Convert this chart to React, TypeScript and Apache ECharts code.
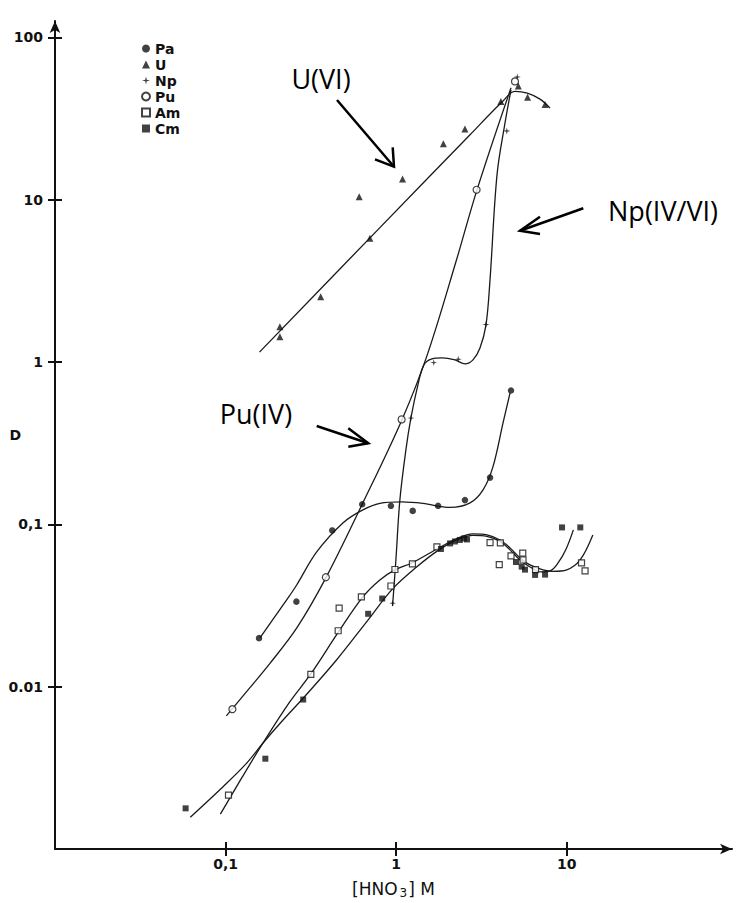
import React, { useEffect, useRef } from "react";
import * as echarts from "echarts";

// ---- tick values / labels ----
const X_TICKS = [0.1, 1, 10];
const X_TICK_LABELS = ["0,1", "1", "10"];
const Y_TICKS = [0.01, 0.1, 1, 10, 100];
const Y_TICK_LABELS = ["0.01", "0,1", "1", "10", "100"];
const LEGEND_NAMES = ["Pa", "U", "Np", "Pu", "Am", "Cm"];

// ---- measured points: [HNO3] (M) and D ----
const PA_X = [0.157, 0.26, 0.422, 0.632, 0.931, 1.25, 1.76, 2.53, 3.55, 4.71];
const PA_D = [0.0199, 0.0334, 0.0917, 0.133, 0.13, 0.121, 0.13, 0.141, 0.194, 0.667];

const U_X = [0.208, 0.208, 0.361, 0.701, 0.607, 1.09, 1.89, 2.53, 4.11, 5.2, 5.89, 7.46];
const U_D = [1.43, 1.65, 2.52, 5.79, 10.4, 13.4, 22.1, 27.2, 40.2, 50.2, 42.8, 38.6];

const NP_X = [0.953, 1.22, 1.66, 2.31, 3.36, 4.45, 5.13];
const NP_D = [0.0327, 0.451, 0.991, 1.04, 1.7, 26.5, 56.9];

const PU_X = [0.1096, 0.387, 1.076, 2.96, 4.97];
const PU_D = [0.00727, 0.0472, 0.443, 11.5, 53.5];

const AM_X = [0.104, 0.316, 0.457, 0.463, 0.625, 0.931, 0.983, 1.245, 1.733, 3.55, 4.08, 4.02, 4.71, 5.52, 5.54, 6.56, 12.2, 12.8];
const AM_D = [0.00215, 0.0119, 0.0221, 0.0305, 0.0357, 0.0417, 0.0527, 0.057, 0.0726, 0.0771, 0.0768, 0.0565, 0.0639, 0.0664, 0.0603, 0.0526, 0.0578, 0.0516];

const CM_X = [0.0583, 0.171, 0.285, 0.685, 0.828, 1.83, 2.07, 2.21, 2.36, 2.5, 2.6, 5.04, 5.44, 5.69, 6.52, 7.46, 9.38, 12.0];
const CM_D = [0.00178, 0.0036, 0.00833, 0.0281, 0.0349, 0.0705, 0.0763, 0.0784, 0.0801, 0.0818, 0.0807, 0.0586, 0.0549, 0.0526, 0.0488, 0.049, 0.0957, 0.0957];

// ---- fitted curves (hand-drawn in the original) ----
const PA_CURVE_X = [0.159, 0.194, 0.228, 0.261, 0.342, 0.487, 0.638, 0.802, 1.08, 1.435, 2.07, 2.71, 3.23, 3.69, 4.23, 4.65];
const PA_CURVE_D = [0.02, 0.0269, 0.0342, 0.0423, 0.0676, 0.102, 0.1227, 0.1345, 0.1374, 0.1345, 0.1271, 0.1355, 0.163, 0.226, 0.4215, 0.645];

const U_CURVE_X = [0.158, 0.8, 2.71, 4.17, 4.97, 5.87, 6.97, 7.98];
const U_CURVE_D = [1.15, 6.7, 25.1, 39.9, 46.4, 45.3, 41.6, 36.6];

const NP_CURVE_X = [0.952, 0.996, 1.051, 1.14, 1.22, 1.341, 1.454, 1.62, 1.854, 2.211, 2.531, 2.819, 3.099, 3.361, 3.548, 3.899, 4.345, 4.711];
const NP_CURVE_D = [0.0314, 0.0603, 0.1413, 0.2873, 0.4523, 0.7227, 0.9596, 1.045, 1.06, 1.03, 0.973, 1.03, 1.221, 1.693, 3.206, 14.22, 29.73, 47.49];

const PU_CURVE_X = [0.101, 0.1385, 0.1815, 0.2614, 0.387, 0.6376, 1.08, 1.514, 2.24, 2.976, 4.711];
const PU_CURVE_D = [0.0066, 0.00982, 0.01386, 0.023, 0.0468, 0.1355, 0.4397, 1.09, 4.14, 11.49, 48.9];

const AM_CURVE_X = [0.0932, 0.1243, 0.1658, 0.2377, 0.3158, 0.4549, 0.6376, 0.802, 0.983, 1.236, 1.733, 2.271, 2.819, 3.406, 4.06, 4.649, 5.32, 6.09, 7.26, 8.31, 10.0, 11.97, 14.21];
const AM_CURVE_D = [0.00164, 0.00274, 0.0045, 0.00805, 0.01197, 0.02143, 0.0357, 0.0454, 0.0524, 0.0578, 0.0705, 0.0818, 0.0873, 0.086, 0.0801, 0.0716, 0.0621, 0.0562, 0.0524, 0.0513, 0.0524, 0.0603, 0.086];

const CM_CURVE_X = [0.0621, 0.0966, 0.1325, 0.1658, 0.2172, 0.2846, 0.4469, 0.685, 0.952, 1.317, 1.781, 2.271, 2.819, 3.406, 4.06, 4.649, 5.32, 6.09, 7.07, 7.98, 8.89, 9.91, 10.93];
const CM_CURVE_D = [0.00157, 0.00242, 0.00337, 0.0045, 0.00623, 0.00848, 0.0146, 0.0258, 0.04, 0.0546, 0.0696, 0.0801, 0.0854, 0.0842, 0.0784, 0.0696, 0.0603, 0.0546, 0.0509, 0.0516, 0.0578, 0.0705, 0.0924];

// axis extents in [HNO3] and D
const X_MIN = 0.01;
const X_MAX = 93;
const Y_MIN = 0.001;
const Y_MAX = 126;

const lg = (v: number) => Math.round(Math.log10(v) * 1e6) / 1e6;
const pairs = (xs: number[], ys: number[]) => xs.map((x, i) => [lg(x), lg(ys[i])]);

const INK = "#111";
const FONT = "DejaVu Sans";
const STAR = "path://M5,0 L6,4 L10,5 L6,6 L5,10 L4,6 L0,5 L4,4 Z";

export default function App() {
  const ref = useRef<HTMLDivElement>(null);

  useEffect(() => {
    if (!ref.current) return;
    const chart = echarts.init(ref.current, null, { renderer: "svg" });

    const xTickVals = X_TICKS.map(lg);
    const yTickVals = Y_TICKS.map(lg);
    const xLabelFor = (v: number) => {
      const i = xTickVals.findIndex((t) => Math.abs(t - v) < 1e-4);
      return i >= 0 ? X_TICK_LABELS[i] : "";
    };
    const yLabelFor = (v: number) => {
      const i = yTickVals.findIndex((t) => Math.abs(t - v) < 1e-4);
      return i >= 0 ? Y_TICK_LABELS[i] : "";
    };

    const curve = (xs: number[], ys: number[]) => ({
      type: "line",
      data: pairs(xs, ys),
      smooth: 0.35,
      showSymbol: false,
      symbol: "none",
      silent: true,
      lineStyle: { color: "#1a1a1a", width: 1.3 },
      z: 2,
    });

    const scatter = (name: string, xs: number[], ys: number[], symbol: string, size: number, itemStyle: any) => ({
      type: "scatter",
      name,
      data: pairs(xs, ys),
      symbol,
      symbolSize: size,
      itemStyle,
      z: 3,
    });

    const filled = { color: INK };
    const hollow = { color: "#fff", borderColor: INK, borderWidth: 1.2 };

    const arrowStyle = { stroke: "#000", lineWidth: 2.5, fill: null };
    const annText = (text: string, x: number, y: number) => ({
      type: "text",
      x,
      y,
      style: {
        text,
        fontSize: 27,
        fontFamily: "Open Sans",
        fill: "#000",
        align: "center",
        verticalAlign: "middle",
      },
    });
    const arrow = (x1: number, y1: number, x2: number, y2: number, a: number[], b: number[]) => [
      { type: "line", shape: { x1, y1, x2, y2 }, style: arrowStyle },
      { type: "polyline", shape: { points: [a, [x2, y2], b] }, style: arrowStyle },
    ];

    const axisFont = { fontFamily: FONT, fontWeight: "bold", fontSize: 14, color: INK };

    chart.setOption({
      animation: false,
      backgroundColor: "#fff",
      grid: { left: 55, right: 8, top: 21, bottom: 54, containLabel: false, outerBoundsMode: "none" },
      legend: {
        orient: "vertical",
        left: 141,
        top: 41,
        itemWidth: 8,
        itemHeight: 8,
        itemGap: 1,
        padding: 0,
        data: LEGEND_NAMES,
        textStyle: { ...axisFont, fontSize: 14, lineHeight: 15 },
      },
      xAxis: [
        {
          type: "value",
          min: lg(X_MIN),
          max: lg(X_MAX),
          name: "{a|[HNO}{s|3}{a|] M}",
          nameLocation: "middle",
          nameGap: 30,
          nameMoveOverlap: false,
          nameTextStyle: {
            rich: {
              a: { fontFamily: FONT, fontSize: 17, color: INK },
              s: { fontFamily: FONT, fontSize: 12, color: INK, verticalAlign: "bottom", padding: [8, 1, 0, 2] },
            },
          },
          axisLine: { show: true, onZero: false, symbol: ["none", "arrow"], symbolSize: [8, 12], lineStyle: { color: INK, width: 2 } },
          axisTick: { show: true, inside: false, length: 7, customValues: xTickVals, lineStyle: { color: INK, width: 2 } },
          axisLabel: { show: true, customValues: xTickVals, formatter: xLabelFor, margin: 8, ...axisFont },
          splitLine: { show: false },
        },
        {
          type: "value",
          position: "bottom",
          min: lg(X_MIN),
          max: lg(X_MAX),
          axisLine: { show: false, onZero: false },
          axisTick: { show: true, inside: true, length: 7, customValues: xTickVals, lineStyle: { color: INK, width: 2 } },
          axisLabel: { show: false },
          splitLine: { show: false },
        },
      ],
      yAxis: [
        {
          type: "value",
          min: lg(Y_MIN),
          max: lg(Y_MAX),
          name: "D",
          nameLocation: "middle",
          nameRotate: 0,
          nameGap: 34,
          nameMoveOverlap: false,
          nameTextStyle: { ...axisFont },
          axisLine: { show: true, onZero: false, symbol: ["none", "arrow"], symbolSize: [8, 12], lineStyle: { color: INK, width: 2 } },
          axisTick: { show: true, inside: false, length: 7, customValues: yTickVals, lineStyle: { color: INK, width: 2 } },
          axisLabel: { show: true, customValues: yTickVals, formatter: yLabelFor, margin: 12, ...axisFont },
          splitLine: { show: false },
        },
        {
          type: "value",
          position: "left",
          min: lg(Y_MIN),
          max: lg(Y_MAX),
          axisLine: { show: false, onZero: false },
          axisTick: { show: true, inside: true, length: 7, customValues: yTickVals, lineStyle: { color: INK, width: 2 } },
          axisLabel: { show: false },
          splitLine: { show: false },
        },
      ],
      series: [
        curve(PA_CURVE_X, PA_CURVE_D),
        curve(U_CURVE_X, U_CURVE_D),
        curve(NP_CURVE_X, NP_CURVE_D),
        curve(PU_CURVE_X, PU_CURVE_D),
        curve(AM_CURVE_X, AM_CURVE_D),
        curve(CM_CURVE_X, CM_CURVE_D),
        scatter("Pa", PA_X, PA_D, "circle", 6.5, filled),
        scatter("U", U_X, U_D, "triangle", 7, filled),
        scatter("Np", NP_X, NP_D, STAR, 7, filled),
        scatter("Pu", PU_X, PU_D, "circle", 7, hollow),
        scatter("Am", AM_X, AM_D, "rect", 6, hollow),
        scatter("Cm", CM_X, CM_D, "rect", 6, filled),
      ],
      graphic: [
        annText("U(VI)", 321, 78),
        annText("Np(IV/VI)", 663, 210),
        annText("Pu(IV)", 256, 413),
        ...arrow(337, 100, 394, 166.7, [375, 159.3], [392.7, 147.3]),
        ...arrow(583.3, 208.3, 520, 230.7, [540, 216.7], [540, 234]),
        ...arrow(316.7, 426, 368.3, 443.3, [348.3, 428.3], [348.3, 446.7]),
      ],
    });

    return () => chart.dispose();
  }, []);

  return (
    <div
      ref={ref}
      style={{ position: "fixed", left: 0, top: 0, width: 740, height: 903, background: "#fff" }}
    />
  );
}
